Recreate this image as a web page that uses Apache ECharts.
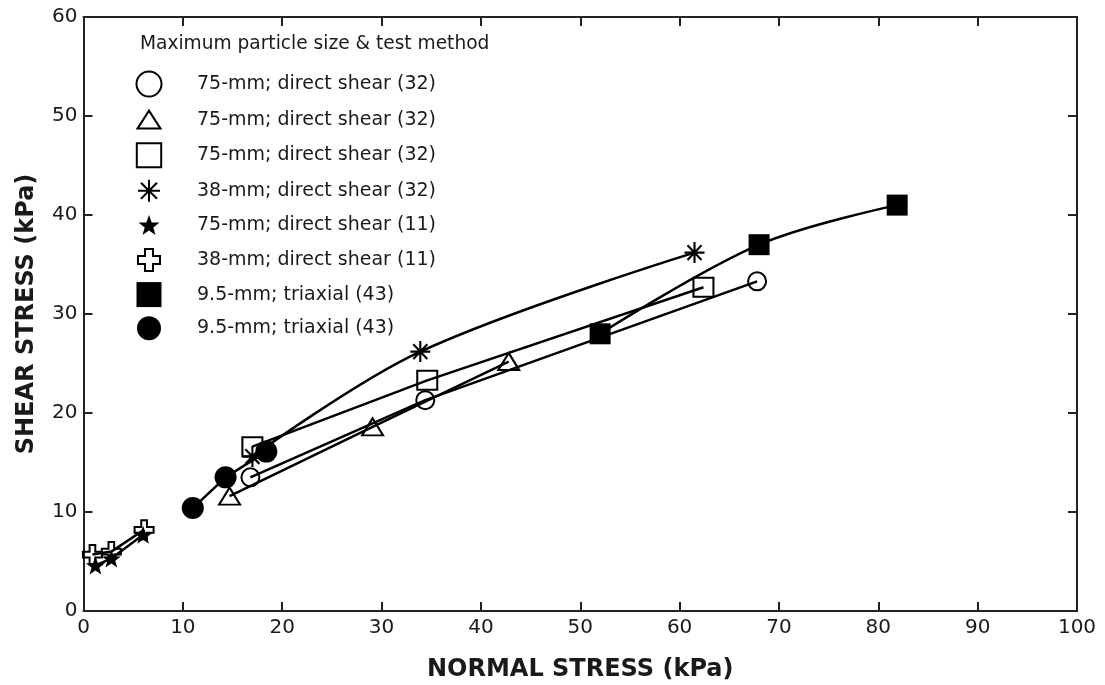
<!DOCTYPE html>
<html>
<head>
<meta charset="utf-8">
<script src="https://cdn.jsdelivr.net/npm/echarts@6/dist/echarts.min.js"></script>
<style>
html,body{margin:0;padding:0;background:#fff;}
#chart{width:1105px;height:685px;}
</style>
</head>
<body>
<div id="chart"></div>
<script>
// ---- data (kPa) ----
const circleX = [16.8, 34.4, 67.8];
const circleY = [13.5, 21.3, 33.3];
const triX = [14.7, 29.1, 42.8];
const triY = [11.6, 18.6, 25.2];
const sqX = [17.0, 34.6, 62.4];
const sqY = [16.6, 23.3, 32.7];
const astX = [17.0, 33.9, 61.5];
const astY = [15.6, 26.2, 36.2];
const starX = [1.2, 2.8, 6.0];
const starY = [4.6, 5.3, 7.7];
const crossX = [0.9, 2.8, 6.1];
const crossY = [5.7, 6.0, 8.2];
const fsqX = [52.0, 68.0, 81.9];
const fsqY = [28.0, 37.0, 41.0];
const fcX = [11.0, 14.3, 18.4];
const fcY = [10.4, 13.5, 16.1];

const legendLabels = [
  '75-mm; direct shear (32)',
  '75-mm; direct shear (32)',
  '75-mm; direct shear (32)',
  '38-mm; direct shear (32)',
  '75-mm; direct shear (11)',
  '38-mm; direct shear (11)',
  '9.5-mm; triaxial (43)',
  '9.5-mm; triaxial (43)'
];
const legendTitle = 'Maximum particle size & test method';
const xTitle = 'NORMAL STRESS (kPa)';
const yTitle = 'SHEAR STRESS (kPa)';

function pts(xs, ys){ return xs.map((x,i)=>[x, ys[i]]); }

// symbol shapes
const P = 'M0,0M26,26';
const icons = [
  'path://' + P + 'M13,0.5A12.5,12.5,0,1,1,13,25.5A12.5,12.5,0,1,1,13,0.5Z',
  'path://' + P + 'M1.5,22L13,4L24.5,22Z',
  'path://' + P + 'M0.8,1L25.2,1L25.2,25L0.8,25Z',
  'path://' + P + 'M13,2L13,24M2,13L24,13M5,5L21,21M5,21L21,5',
  'path://' + P + 'M13,2.5L15.7,10L23.5,10.2L17.3,15L19.5,22.6L13,18.1L6.5,22.6L8.7,15L2.5,10.2L10.3,10Z',
  'path://' + P + 'M9,2L17,2L17,9L24,9L24,17L17,17L17,24L9,24L9,17L2,17L2,9L9,9Z',
  'path://' + P + 'M0.5,0.5L25.5,0.5L25.5,25.5L0.5,25.5Z',
  'path://' + P + 'M13,1A12,12,0,1,1,13,25A12,12,0,1,1,13,1Z'
];
const starSym = 'path://M13,3L15.53,10.02L22.99,10.26L17.09,14.83L19.17,21.99L13,17.8L6.83,21.99L8.91,14.83L3.01,10.26L10.47,10.02Z';
const astSym = 'path://M10,0L10,20M0,10L20,10M3,3L17,17M3,17L17,3';
const crossSym = 'path://M7,0L13,0L13,7L20,7L20,13L13,13L13,20L7,20L7,13L0,13L0,7L7,7Z';

const INK = '#000';
const open = {color:'rgba(255,255,255,0)', borderColor:INK, borderWidth:2, opacity:1};
const filled = {color:INK, borderColor:INK, borderWidth:0, opacity:1};

const sets = [
  {x:circleX, y:circleY, sym:'circle', size:18, st:open, smooth:false},
  {x:triX, y:triY, sym:'triangle', size:[21,17], st:open, smooth:false},
  {x:sqX, y:sqY, sym:'rect', size:[20,19], st:open, smooth:false},
  {x:astX, y:astY, sym:astSym, size:[20,21], st:{color:INK, borderColor:INK, borderWidth:2.2, opacity:1}, smooth:true},
  {x:starX, y:starY, sym:starSym, size:[19,18], st:filled, smooth:false},
  {x:crossX, y:crossY, sym:crossSym, size:19, st:open, smooth:false},
  {x:fsqX, y:fsqY, sym:'rect', size:21, st:filled, smooth:true},
  {x:fcX, y:fcY, sym:'circle', size:22, st:filled, smooth:false}
];

const series = [];
sets.forEach((s, i) => {
  series.push({
    type:'line', data:pts(s.x, s.y), symbol:'none', showSymbol:false,
    smooth: s.smooth ? 0.35 : false, silent:true, z:2,
    lineStyle:{color:INK, width:2.5}
  });
});
sets.forEach((s, i) => {
  series.push({
    name:'s' + i, type:'scatter', data:pts(s.x, s.y), symbol:s.sym, symbolSize:s.size,
    itemStyle:s.st, z:3, silent:true
  });
});

const axisLine = {show:true, onZero:false, lineStyle:{color:'#222', width:2}};
const tick = {show:true, inside:true, length:9, lineStyle:{color:'#222', width:2}};
const font = 'DejaVu Sans';

const chart = echarts.init(document.getElementById('chart'), null, {renderer:'canvas'});
chart.setOption({
  animation:false,
  backgroundColor:'#fff',
  textStyle:{fontFamily:font},
  title:{
    text:legendTitle, left:135, top:30,
    textStyle:{fontFamily:font, fontSize:18.6, fontWeight:'normal', color:'#1a1a1a'}
  },
  legend:{
    data: sets.map((s,i)=>({name:'s'+i, icon:icons[i]})),
    formatter: name => legendLabels[+name.slice(1)],
    orient:'vertical', left:135, top:70, padding:0,
    itemWidth:86, itemHeight:26, itemGap:7.6,
    selectedMode:false,
    textStyle:{fontFamily:font, fontSize:19, color:'#1a1a1a'}
  },
  grid:{left:83.5, right:28, top:17, bottom:74, containLabel:false, outerBoundsMode:'none'},
  xAxis:[{
    type:'value', min:0, max:100, interval:10, position:'bottom',
    axisLine, splitLine:{show:false}, axisTick:tick,
    axisLabel:{fontFamily:font, fontSize:20, color:'#1a1a1a', margin:7},
    name:xTitle, nameLocation:'middle', nameGap:47,
    nameTextStyle:{fontFamily:font, fontSize:24, fontWeight:'bold', color:'#1a1a1a'}
  },{
    type:'value', min:0, max:100, interval:10, position:'top',
    axisLine, splitLine:{show:false}, axisTick:tick,
    axisLabel:{show:false}
  }],
  yAxis:[{
    type:'value', min:0, max:60, interval:10, position:'left',
    axisLine, splitLine:{show:false}, axisTick:tick,
    axisLabel:{fontFamily:font, fontSize:20, color:'#1a1a1a', margin:6},
    name:yTitle, nameLocation:'middle', nameGap:45, nameRotate:90,
    nameTextStyle:{fontFamily:font, fontSize:24, fontWeight:'bold', color:'#1a1a1a'}
  },{
    type:'value', min:0, max:60, interval:10, position:'right',
    axisLine, splitLine:{show:false}, axisTick:tick,
    axisLabel:{show:false}
  }],
  series
});
</script>
</body>
</html>
